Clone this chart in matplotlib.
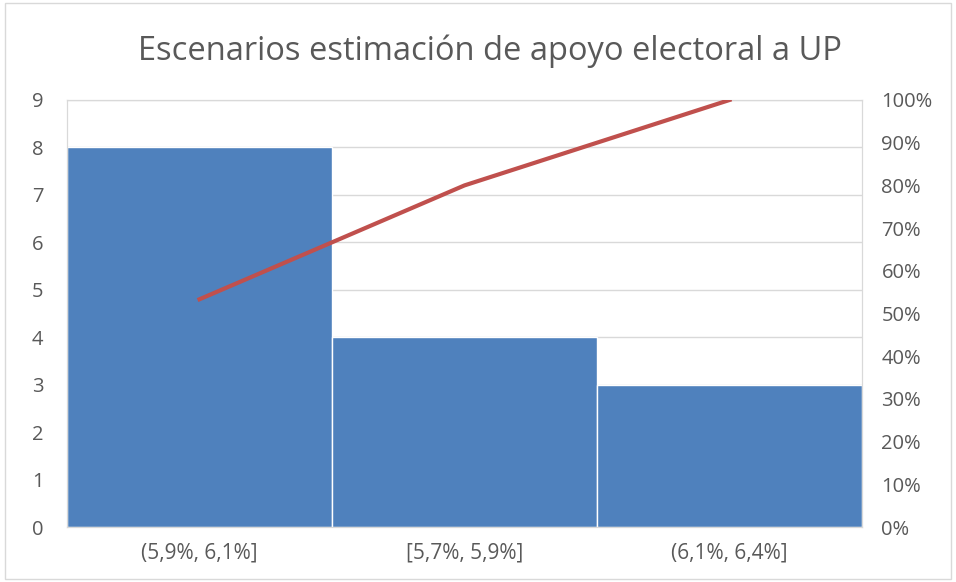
import matplotlib
matplotlib.use("Agg")
import matplotlib.pyplot as plt
from matplotlib.ticker import FuncFormatter, MultipleLocator
import numpy as np

categories = ["(5,9%, 6,1%]", "[5,7%, 5,9%]", "(6,1%, 6,4%]"]
counts = [8, 4, 3]
cum_pct = list(np.cumsum(counts) / np.sum(counts) * 100)

plt.rcParams['font.family'] = ['Open Sans', 'DejaVu Sans']
txt = '#595959'
grid = '#D9D9D9'

fig = plt.figure(figsize=(9.56, 5.82), dpi=100)
ax = fig.add_axes([0.0701, 0.0945, 0.8316, 0.7337])
x = np.arange(len(categories))
ax.bar(x, counts, width=1.0, color='#4F81BD', edgecolor='white', linewidth=1.0, zorder=2)
ax.set_xlim(-0.5, len(categories) - 0.5)
ax.set_ylim(0, 9)
ax.yaxis.set_major_locator(MultipleLocator(1))
ax.grid(axis='y', color=grid, linewidth=1, zorder=0)
ax.set_xticks(x)
ax.set_xticklabels(categories)
ax.tick_params(axis='x', length=0, colors=txt, labelsize=15, pad=11)
ax.tick_params(axis='y', length=0, colors=txt, labelsize=14.5, pad=17)
for s in ['left', 'right', 'top', 'bottom']:
    ax.spines[s].set_color(grid)
ax2 = ax.twinx()
ax2.plot(x, cum_pct, color='#C0504D', linewidth=3.0, zorder=3)
ax2.set_ylim(0, 100)
ax2.yaxis.set_major_locator(MultipleLocator(10))
ax2.yaxis.set_major_formatter(FuncFormatter(lambda v, p: f"{int(v)}%"))
ax2.tick_params(axis='y', length=0, colors=txt, labelsize=14.5, pad=14)
for s in ['left', 'right', 'top', 'bottom']:
    ax2.spines[s].set_color(grid)

fig.text(0.512, 0.912, "Escenarios estimación de apoyo electoral a UP", ha='center', va='center',
         fontsize=23.5, color=txt)
fig.patches.append(plt.Rectangle((0.005, 0.005), 0.99, 0.99, transform=fig.transFigure,
                                 fill=False, edgecolor='#D9D9D9', linewidth=1))
fig.savefig("out.png", dpi=100)
